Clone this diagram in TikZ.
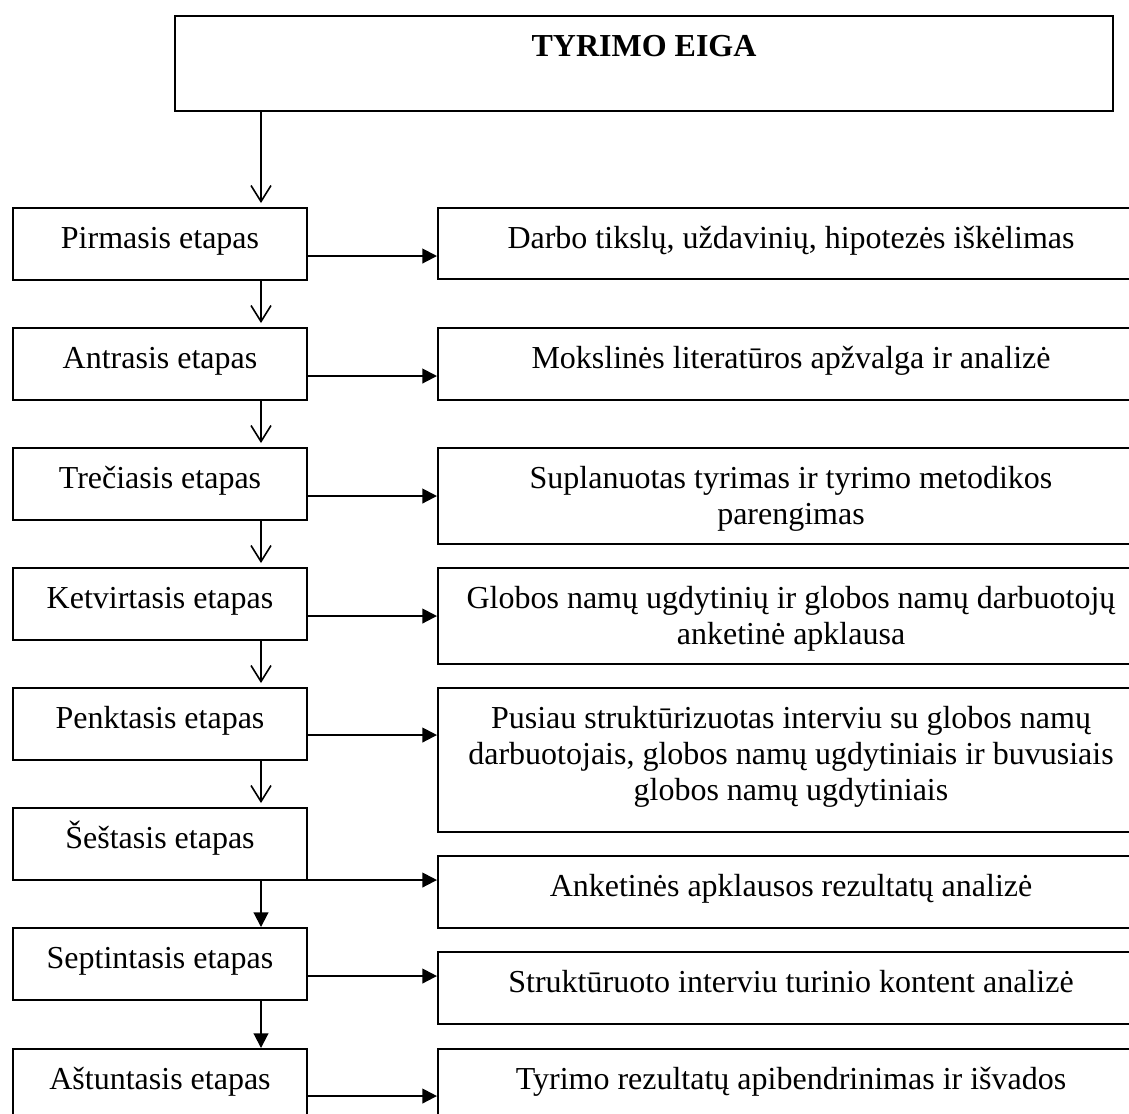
\documentclass[tikz,border=0pt]{standalone}
\usepackage{fontspec}
\setmainfont{Liberation Serif}
\usepackage{tikz}
\usetikzlibrary{arrows.meta}
\usetikzlibrary{calc}

\newlength\pxu
\setlength\pxu{0.375pt}

\tikzset{
    box/.style = {draw, line width=0.75pt, anchor=north west, inner sep=0pt,
        align=center, text height=40\pxu, font=\fontsize{12}{13.5}\selectfont},
    stage/.style = {box, minimum width=294\pxu, text depth=32\pxu},
    task/.style = {box, minimum width=706\pxu, text depth=#1\pxu},
    task/.default = 32,
    openarrow/.style = {line width=0.6pt, shorten >=1.5pt,
        -{Straight Barb[length=6pt, width=7.5pt]}},
    fillarrow/.style = {line width=0.75pt, -{Triangle[length=5.5pt, width=5.5pt]}}
}

\begin{document}
\begin{tikzpicture}[x=\pxu, y=-\pxu]
        \useasboundingbox (0, 0) rectangle (1129, 1113);
        \clip (0, 0) rectangle (1129, 1113);

        \node[box, minimum width=938\pxu, text depth=55\pxu] (title) at (174, 15)
            {\bfseries TYRIMO EIGA};

        % etapai
        \node[stage] (e1) at (12, 207) {Pirmasis etapas};
        \node[stage] (e2) at (12, 327) {Antrasis etapas};
        \node[stage] (e3) at (12, 447) {Trečiasis etapas};
        \node[stage] (e4) at (12, 567) {Ketvirtasis etapas};
        \node[stage] (e5) at (12, 687) {Penktasis etapas};
        \node[stage] (e6) at (12, 807) {Šeštasis etapas};
        \node[stage] (e7) at (12, 927) {Septintasis etapas};
        \node[stage] (e8) at (12, 1048) {Aštuntasis etapas};

        % veiklos
        \node[task=31] (d1) at (437, 207) {Darbo tikslų, uždavinių, hipotezės iškėlimas};
        \node[task] (d2) at (437, 327) {Mokslinės literatūros apžvalga ir analizė};
        \node[task=20, text height=76\pxu] (d3) at (437, 447)
            {Suplanuotas tyrimas ir tyrimo metodikos\\parengimas};
        \node[task=20, text height=76\pxu] (d4) at (437, 567)
            {Globos namų ugdytinių ir globos namų darbuotojų\\anketinė apklausa};
        \node[task, text height=112\pxu] (d5) at (437, 687)
            {Pusiau struktūrizuotas interviu su globos namų\\darbuotojais, globos namų ugdytiniais ir buvusiais\\globos namų ugdytiniais};
        \node[task] (d6) at (437, 855) {Anketinės apklausos rezultatų analizė};
        \node[task] (d7) at (437, 951) {Struktūruoto interviu turinio kontent analizė};
        \node[task] (d8) at (437, 1048) {Tyrimo rezultatų apibendrinimas ir išvados};

        % rodyklės žemyn
        \coordinate (ax) at (261, 0);
        \draw[openarrow] (title.south -| ax) -- (e1.north -| ax);
        \draw[openarrow] (e1.south -| ax) -- (e2.north -| ax);
        \draw[openarrow] (e2.south -| ax) -- (e3.north -| ax);
        \draw[openarrow] (e3.south -| ax) -- (e4.north -| ax);
        \draw[openarrow] (e4.south -| ax) -- (e5.north -| ax);
        \draw[openarrow] (e5.south -| ax) -- (e6.north -| ax);
        \draw[fillarrow] (e6.south -| ax) -- (e7.north -| ax);
        \draw[fillarrow] (e7.south -| ax) -- (e8.north -| ax);

        % rodyklės į dešinę
        \foreach \i/\dy in {1/12, 2/12, 3/12, 4/12, 5/11, 6/36, 7/12, 8/11}
            \draw[fillarrow] ($(e\i.east) + (0, \dy)$) -- ($(d\i.west |- e\i.east) + (0, \dy)$);
    \end{tikzpicture}
\end{document}
